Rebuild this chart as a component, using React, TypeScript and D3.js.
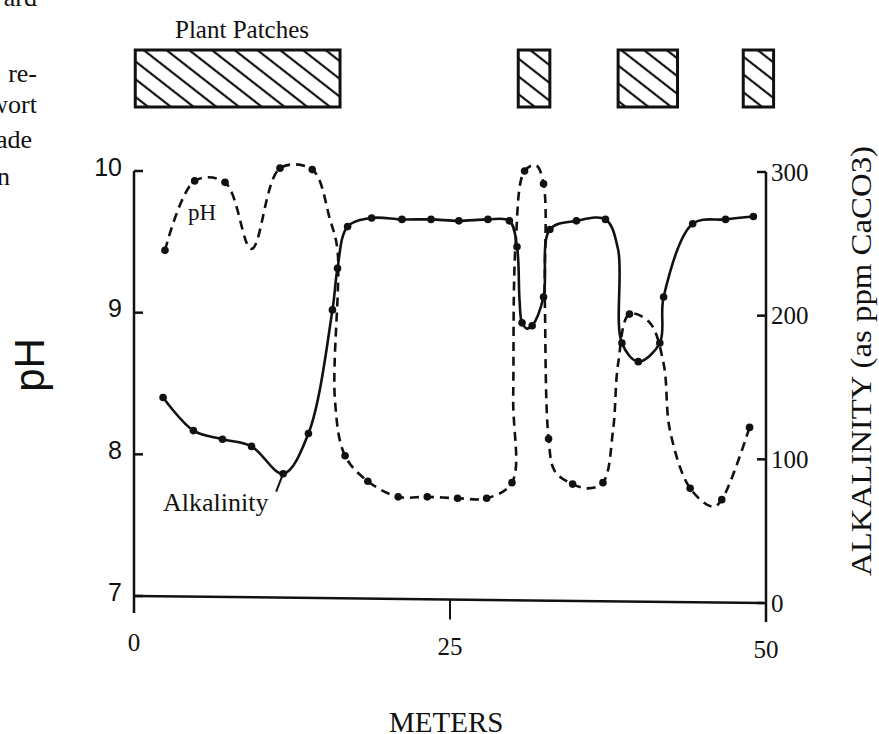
import React from "react";
import * as d3 from "d3";

const W = 879;
const H = 734;

// pH transect (dashed). dot = 1 where a sample point is drawn, 0 = bend of the hand-drawn curve
const phMeters = [2.45, 4.8, 7.2, 9.3, 11.55, 14.1, 15.5, 16.1, 15.9, 16.7, 18.5, 20.9, 23.2, 25.6, 27.9, 29.9, 30.0, 30.2, 30.9, 31.8, 32.4, 32.5, 32.8, 33.3, 34.7, 35.9, 37.1, 37.9, 38.3, 39.2, 40.8, 41.9, 42.4, 44.0, 45.8, 46.5, 48.7];
const phValues = [9.44, 9.93, 9.92, 9.45, 10.02, 10.01, 9.66, 9.44, 8.38, 7.99, 7.81, 7.7, 7.7, 7.69, 7.69, 7.8, 8.4, 9.5, 10.0, 10.04, 9.91, 9.1, 8.11, 7.88, 7.79, 7.76, 7.8, 8.17, 8.64, 8.99, 8.93, 8.64, 8.17, 7.76, 7.63, 7.68, 8.19];
const phDots = [1, 1, 1, 0, 1, 1, 0, 0, 0, 1, 1, 1, 1, 1, 1, 1, 0, 0, 1, 0, 1, 0, 1, 0, 1, 0, 1, 0, 0, 1, 0, 0, 0, 1, 0, 1, 1];

// alkalinity (solid), ppm CaCO3
const alkMeters = [2.3, 4.7, 7.0, 9.3, 11.8, 13.8, 15.7, 16.1, 16.9, 18.8, 21.2, 23.5, 25.7, 28.0, 29.7, 30.3, 30.5, 30.7, 31.1, 31.5, 32.4, 32.9, 35.0, 37.3, 38.3, 38.6, 39.9, 41.6, 41.9, 44.2, 46.8, 49.0];
const alkValues = [143, 120, 114, 109, 90, 118, 204, 233, 262, 268, 267, 267, 266, 267, 266, 248, 211, 195, 191, 193, 213, 260, 266, 267, 246, 181, 168, 181, 213, 264, 267, 269];
const alkDots = [1, 1, 1, 1, 1, 1, 1, 1, 1, 1, 1, 1, 1, 1, 1, 1, 0, 1, 0, 1, 1, 1, 1, 1, 0, 1, 1, 1, 1, 1, 1, 1];

// plant patches along the transect (meters)
const patchStart = [0.1, 30.4, 38.3, 48.2];
const patchEnd = [16.3, 32.9, 43.0, 50.6];

const phTicks = [7, 8, 9, 10];
const alkTicks = [0, 100, 200, 300];
const meterTicks = [0, 25, 50];

// bits of the neighbouring page column
const marginNotes = ["ard", "re-", "wort", "ade", "n"];
const marginBaselines = [6, 82, 113, 148, 185];

const ink = "#111";
const serif = "'Liberation Serif', 'Times New Roman', serif";
const sans = "'Liberation Sans', Arial, sans-serif";

export default function App() {
  const x = d3.scaleLinear().domain([0, 50]).range([134, 766]);
  const yPh = d3.scaleLinear().domain([7, 10]).range([596, 171]);
  const yAlk = d3.scaleLinear().domain([0, 300]).range([603, 172]);

  const ph = phMeters.map((m, i) => ({ m, v: phValues[i], dot: phDots[i] }));
  const alk = alkMeters.map((m, i) => ({ m, v: alkValues[i], dot: alkDots[i] }));

  const phLine = d3.line<any>()
    .x(d => x(d.m))
    .y(d => yPh(d.v))
    .curve(d3.curveCatmullRom.alpha(0.5));
  const alkLine = d3.line<any>()
    .x(d => x(d.m))
    .y(d => yAlk(d.v))
    .curve(d3.curveCatmullRom.alpha(0.5));

  // baseline runs from pH 7 on the left to alkalinity 0 on the right
  const baseY = d3.scaleLinear().domain([0, 50]).range([yPh(7), yAlk(0)]);

  const patchTop = 50;
  const patchH = 57;

  // label hook for "Alkalinity" points at the low sample
  const low = alk[4];

  return (
    <svg width={W} height={H} style={{ position: "absolute", left: 0, top: 0, background: "#fff" }}>
      <defs>
        <pattern id="hatch" width={14} height={14} patternUnits="userSpaceOnUse" patternTransform="rotate(38)">
          <line x1={0} y1={7} x2={14} y2={7} stroke={ink} strokeWidth={2.2} />
        </pattern>
      </defs>

      {marginNotes.map((t, i) => (
        <text key={t} x={37} y={marginBaselines[i]} textAnchor="end" fontFamily={serif} fontSize={26} fill={ink}
          dx={t === "ade" ? -5 : t === "n" ? -27 : 0}>{t}</text>
      ))}

      <text x={175} y={38} fontFamily={serif} fontSize={25} fill={ink}>Plant Patches</text>
      {patchStart.map((s, i) => (
        <rect key={i} x={x(s)} y={patchTop} width={x(patchEnd[i]) - x(s)} height={patchH}
          fill="url(#hatch)" stroke={ink} strokeWidth={3} />
      ))}

      {/* left pH axis */}
      <line x1={x(0)} x2={x(0)} y1={yPh(10)} y2={613} stroke={ink} strokeWidth={2.5} />
      {phTicks.map(t => (
        <g key={t}>
          <line x1={x(0)} x2={x(0) + 9} y1={yPh(t)} y2={yPh(t)} stroke={ink} strokeWidth={2.5} />
          <text x={x(0) - 12} y={yPh(t) - 4} dy="0.35em" textAnchor="end" fontFamily={sans} fontSize={25} fill={ink}>{t}</text>
        </g>
      ))}
      <text transform={`translate(44,365) rotate(-90)`} textAnchor="middle" fontFamily={sans} fontSize={42} fontWeight={300} fill={ink}>pH</text>

      {/* right alkalinity axis */}
      <line x1={x(50)} x2={x(50)} y1={yAlk(300)} y2={622} stroke={ink} strokeWidth={2.5} />
      {alkTicks.map(t => (
        <g key={t}>
          <line x1={x(50) - 9} x2={x(50)} y1={yAlk(t)} y2={yAlk(t)} stroke={ink} strokeWidth={2.5} />
          <text x={x(50) + 5} y={yAlk(t)} dy="0.35em" fontFamily={serif} fontSize={25} fill={ink}>{t}</text>
        </g>
      ))}
      <text transform={`translate(871,361) rotate(-90)`} textAnchor="middle" fontFamily={serif} fontSize={29}
        textLength={430} lengthAdjust="spacingAndGlyphs" fill={ink}>ALKALINITY (as ppm CaCO3)</text>

      {/* bottom axis */}
      <line x1={x(0)} y1={baseY(0)} x2={x(50)} y2={baseY(50)} stroke={ink} strokeWidth={2.5} />
      <line x1={x(25)} x2={x(25)} y1={baseY(25)} y2={baseY(25) + 20} stroke={ink} strokeWidth={2} />
      {meterTicks.map(t => (
        <text key={t} x={x(t)} y={baseY(t) + 55} textAnchor="middle" fontFamily={serif} fontSize={25} fill={ink}>{t}</text>
      ))}
      <text x={x(24.7)} y={732} textAnchor="middle" fontFamily={serif} fontSize={29} fill={ink}>METERS</text>

      {/* series */}
      <path d={phLine(ph) || ""} fill="none" stroke={ink} strokeWidth={2.6} strokeDasharray="9 6" />
      <path d={alkLine(alk) || ""} fill="none" stroke={ink} strokeWidth={2.6} />
      {ph.filter(d => d.dot).map((d, i) => (
        <circle key={"p" + i} cx={x(d.m)} cy={yPh(d.v)} r={3.8} fill={ink} />
      ))}
      {alk.filter(d => d.dot).map((d, i) => (
        <circle key={"a" + i} cx={x(d.m)} cy={yAlk(d.v)} r={3.8} fill={ink} />
      ))}

      <text x={188} y={220} fontFamily={serif} fontSize={23} fill={ink}>pH</text>
      <line x1={x(low.m) - 7} y1={yAlk(low.v) + 18} x2={x(low.m)} y2={yAlk(low.v)} stroke={ink} strokeWidth={2} />
      <text x={163} y={511} fontFamily={serif} fontSize={26} fill={ink}>Alkalinity</text>
    </svg>
  );
}
